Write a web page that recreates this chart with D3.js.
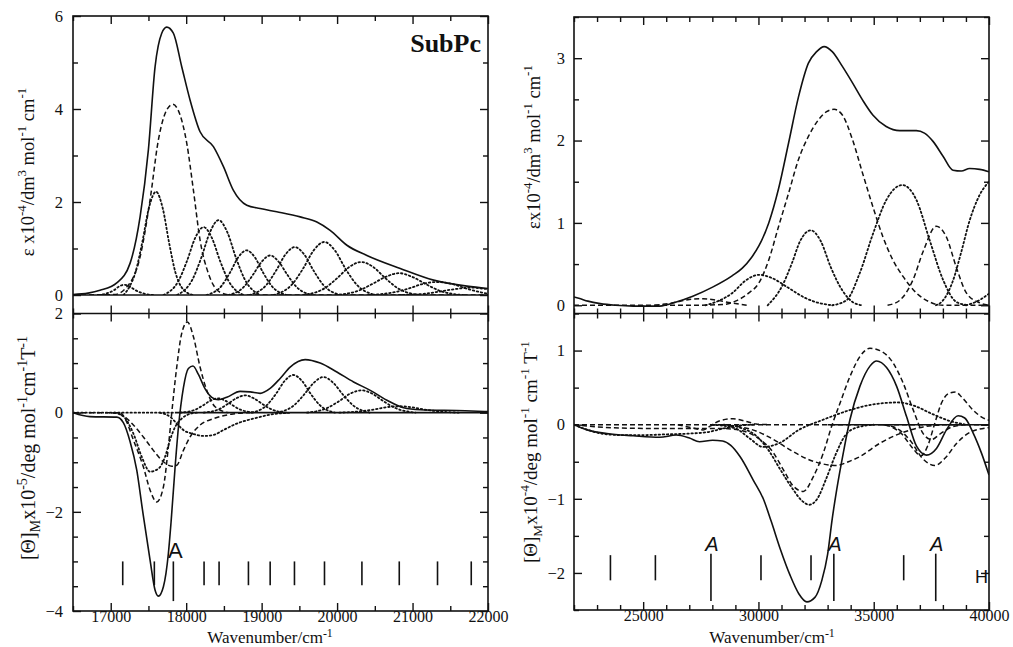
<!DOCTYPE html>
<html>
<head>
<meta charset="utf-8">
<script src="https://cdn.jsdelivr.net/npm/d3@7"></script>
<style>
body { margin: 0; background: #fff; }
svg { display: block; }
text { font-family: "Liberation Serif", "Times New Roman", serif; fill: #111; }
</style>
</head>
<body>
<script>
// ---- upper left: absorption, 16500-22000 cm-1 (eps x10^-4)
var ulSolid = [[16500,0.01],[16700,0.04],[16858,0.10],[17080,0.26],[17256,0.68],[17389,1.68],[17499,3.12],[17588,4.91],[17676,5.63],[17742,5.76],[17830,5.63],[17941,4.91],[18052,4.19],[18184,3.51],[18361,3.19],[18494,2.76],[18626,2.25],[18803,1.93],[18980,1.86],[19201,1.79],[19511,1.68],[19732,1.57],[19908,1.39],[20130,1.07],[20395,0.85],[20837,0.57],[21279,0.32],[21721,0.19],[22000,0.14]];
var ulDashed = [[[16500,0],[17050,0.01],[17212,0.17],[17389,0.82],[17521,2.04],[17631,3.33],[17742,3.98],[17822,4.10],[17919,3.87],[18008,3.26],[18096,2.25],[18184,1.18],[18295,0.46],[18449,0.06],[18600,0],[22000,0]]];
var ulDotted = [
  [[16840,0],[16975,0.05],[17050,0.11],[17110,0.185],[17180,0.22],[17250,0.185],[17320,0.11],[17400,0.05],[17560,0]],
  [[17170,0],[17256,0.2],[17330,0.5],[17420,1.15],[17510,1.9],[17601,2.22],[17690,1.86],[17775,1.11],[17860,0.47],[18010,0.05],[18100,0]],
  [[17700,0],[17900,0.31],[18010,0.73],[18120,1.23],[18230,1.46],[18340,1.23],[18450,0.73],[18560,0.31],[18760,0]],
  [[17880,0],[18085,0.34],[18200,0.80],[18315,1.35],[18430,1.61],[18545,1.35],[18660,0.80],[18775,0.34],[18980,0]],
  [[18270,0],[18470,0.20],[18580,0.48],[18690,0.81],[18800,0.96],[18910,0.81],[19020,0.48],[19130,0.20],[19330,0]],
  [[18560,0],[18768,0.18],[18883,0.43],[18998,0.71],[19113,0.85],[19228,0.71],[19343,0.43],[19458,0.18],[19665,0]],
  [[18840,0],[19065,0.22],[19190,0.52],[19315,0.87],[19440,1.03],[19565,0.87],[19690,0.52],[19815,0.22],[20040,0]],
  [[19160,0],[19410,0.24],[19550,0.57],[19690,0.96],[19830,1.14],[19970,0.96],[20110,0.57],[20250,0.24],[20500,0]],
  [[19550,0],[19840,0.15],[20000,0.36],[20160,0.60],[20320,0.71],[20480,0.60],[20640,0.36],[20800,0.15],[21090,0]],
  [[19980,0],[20295,0.10],[20470,0.24],[20645,0.39],[20820,0.47],[20995,0.39],[21170,0.24],[21345,0.10],[21660,0]],
  [[20420,0],[20760,0.06],[20950,0.14],[21140,0.24],[21330,0.28],[21520,0.24],[21710,0.14],[21900,0.06],[22000,0.03]],
  [[20820,0],[21180,0.03],[21380,0.08],[21580,0.13],[21780,0.16],[21980,0.13],[22000,0.13]]
];

// ---- lower left: MCD (x10^-5)
var llSolid = [[16500,0],[16725,-0.08],[17080,-0.09],[17167,-0.2],[17256,-0.58],[17345,-1.16],[17420,-1.95],[17521,-2.97],[17588,-3.58],[17631,-3.70],[17698,-3.51],[17764,-2.84],[17800,-2.2],[17853,-1.1],[17897,-0.3],[17963,0.5],[18029,0.89],[18090,0.94],[18162,0.77],[18251,0.48],[18339,0.31],[18427,0.26],[18538,0.31],[18715,0.43],[18847,0.42],[18980,0.39],[19113,0.49],[19245,0.69],[19378,0.92],[19577,1.07],[19776,1.00],[19997,0.82],[20218,0.62],[20439,0.45],[20660,0.25],[20881,0.10],[21102,0.06],[21700,0.04],[22000,0.02]];
var llZeroSolid = [[17850,0],[22000,0]];
var llDashed = [
  [[16500,0],[17123,0],[17200,-0.15],[17300,-0.55],[17432,-1.09],[17521,-1.56],[17610,-1.80],[17698,-1.50],[17764,-0.69],[17809,0],[17875,0.92],[17941,1.60],[18016,1.83],[18096,1.53],[18184,0.92],[18273,0.45],[18383,0.12],[18560,0]],
  [[17000,0],[17150,-0.05],[17300,-0.25],[17432,-0.49],[17565,-0.76],[17698,-0.99],[17809,-1.08],[17875,-1.06],[17963,-0.76],[18052,-0.49],[18184,-0.25],[18361,-0.12],[18600,-0.03],[18850,0]]
];
var llDotted = [
  [[16500,0],[17850,0]],
  [[17050,0],[17170,-0.08],[17300,-0.42],[17411,-0.89],[17521,-1.19],[17631,-1.13],[17720,-0.89],[17786,-0.55],[17853,-0.29],[17941,-0.12],[18060,-0.02],[18150,0]],
  [[17650,0],[17800,-0.10],[17875,-0.22],[17963,-0.35],[18096,-0.43],[18229,-0.47],[18361,-0.45],[18494,-0.35],[18671,-0.22],[18891,-0.12],[19157,-0.03],[19400,0]],
  [[17920,0],[18120,0.06],[18220,0.145],[18320,0.24],[18420,0.29],[18520,0.24],[18620,0.145],[18720,0.06],[18920,0]],
  [[18230,0],[18435,0.07],[18550,0.175],[18665,0.29],[18780,0.35],[18895,0.29],[19010,0.175],[19125,0.07],[19330,0]],
  [[18870,0],[19075,0.16],[19190,0.38],[19305,0.64],[19420,0.76],[19535,0.64],[19650,0.38],[19765,0.16],[19970,0]],
  [[19200,0],[19430,0.15],[19560,0.36],[19690,0.60],[19820,0.72],[19950,0.60],[20080,0.36],[20210,0.15],[20440,0]],
  [[19600,0],[19870,0.095],[20020,0.225],[20170,0.38],[20320,0.45],[20470,0.38],[20620,0.225],[20770,0.095],[21040,0]],
  [[20030,0],[20325,0.03],[20490,0.065],[20655,0.11],[20820,0.13],[20985,0.11],[21150,0.065],[21315,0.03],[21610,0]]
];

// ---- upper right: absorption, 22000-40000 cm-1 (eps x10^-4)
var urSolid = [[22000,0.10],[22208,0.085],[22600,0.05],[23139,0.02],[23800,0.0],[24572,-0.01],[25718,-0.01],[26435,0.04],[27151,0.11],[28011,0.22],[28871,0.36],[29300,0.45],[29700,0.58],[30017,0.72],[30447,1.0],[30877,1.42],[31307,1.97],[31737,2.53],[32167,2.94],[32525,3.08],[32850,3.14],[33200,3.08],[33640,2.90],[34080,2.70],[34520,2.49],[34960,2.31],[35540,2.17],[36127,2.12],[36849,2.12],[37200,2.09],[37572,1.99],[38006,1.81],[38439,1.64],[38800,1.63],[39162,1.66],[39595,1.65],[40000,1.62]];
var urDashed = [
  [[22000,0],[27000,0],[28500,0.01],[29000,0.05],[29588,0.15],[30017,0.27],[30447,0.55],[30877,0.96],[31307,1.36],[31737,1.77],[32167,2.05],[32597,2.25],[32955,2.35],[33280,2.38],[33640,2.31],[34080,2.01],[34520,1.60],[34960,1.20],[35400,0.83],[35830,0.55],[36270,0.35],[36849,0.15],[37427,0.04],[38000,0],[40000,0]],
  [[35600,0],[36127,0.06],[36705,0.31],[37139,0.65],[37717,0.96],[38150,0.83],[38584,0.46],[39017,0.15],[39595,0.03],[40000,0]],
  [[25500,0],[26300,0.03],[27000,0.07],[27600,0.08],[28200,0.06],[28800,0.03],[29500,0]]
];
var urDotted = [
  [[27700,0],[28155,0.04],[28871,0.15],[29444,0.30],[30017,0.37],[30590,0.33],[31307,0.21],[32024,0.09],[32597,0.03],[33200,0]],
  [[30400,0],[31020,0.23],[31450,0.51],[31809,0.78],[32270,0.91],[32700,0.78],[33140,0.46],[33640,0.18],[34080,0.04],[34500,0]],
  [[33200,0],[33815,0.06],[34393,0.39],[34971,0.87],[35549,1.28],[36243,1.46],[36849,1.28],[37427,0.79],[38006,0.31],[38584,0.04],[39100,0]],
  [[37700,0],[38006,0.06],[38439,0.30],[38800,0.65],[39150,1.02],[39595,1.34],[40000,1.50]],
  [[39000,0],[39500,0.05],[40000,0.14]]
];

// ---- lower right: MCD (x10^-4)
var lrSolid = [[22000,0],[22566,-0.07],[23426,-0.12],[24572,-0.15],[25718,-0.17],[26435,-0.14],[27008,-0.18],[27440,-0.23],[28011,-0.21],[28443,-0.22],[28800,-0.28],[29200,-0.43],[29780,-0.75],[30210,-1.0],[30550,-1.30],[30950,-1.68],[31370,-2.03],[31750,-2.28],[32100,-2.39],[32450,-2.33],[32750,-2.10],[33000,-1.75],[33200,-1.27],[33393,-0.88],[33681,-0.38],[33970,0.07],[34403,0.52],[34836,0.79],[35124,0.86],[35557,0.77],[35990,0.52],[36423,0.11],[36856,-0.29],[37289,-0.41],[37722,-0.32],[38155,-0.07],[38660,0.12],[38948,0.09],[39309,-0.11],[39670,-0.38],[40000,-0.68]];
var lrZeroSolid = [[33000,0],[40000,0]];
var lrDashed = [
  [[22000,0],[40000,0]],
  [[22000,0],[23000,-0.03],[25000,-0.05],[27000,-0.05],[28200,-0.05],[28919,-0.06],[29497,-0.10],[30074,-0.20],[30651,-0.38],[31084,-0.61],[31517,-0.83],[31950,-0.90],[32383,-0.70],[32816,-0.38],[33176,-0.02],[33537,0.29],[33970,0.65],[34403,0.92],[34836,1.03],[35269,1.0],[35846,0.83],[36279,0.56],[36712,0.20],[37145,-0.12],[37500,-0.2],[37900,-0.12],[38400,-0.03],[39000,0]],
  [[28000,0],[29208,-0.03],[29930,-0.09],[30651,-0.2],[31373,-0.34],[32100,-0.46],[32800,-0.53],[33393,-0.55],[33900,-0.50],[34403,-0.43],[35269,-0.25],[36135,-0.12],[37145,-0.03],[38000,0]],
  [[35500,0],[36200,-0.12],[36700,-0.32],[37050,-0.42],[37350,-0.28],[37650,0.02],[37950,0.30],[38250,0.42],[38550,0.44],[38850,0.36],[39300,0.20],[39700,0.10],[40000,0.06]],
  [[35400,0],[36000,-0.05],[36600,-0.22],[37100,-0.45],[37650,-0.55],[38100,-0.45],[38600,-0.25],[39200,-0.1],[40000,-0.04]],
  [[26500,0],[27100,-0.04],[27600,-0.07],[27900,-0.02],[28300,0.05],[28900,0.08],[29400,0.05],[29900,0.01],[30500,0]]
];
var lrDotted = [
  [[22000,0],[22500,-0.06],[23200,-0.12],[24000,-0.14],[25000,-0.14],[26000,-0.13],[27000,-0.12],[27800,-0.10],[28500,-0.05],[29200,-0.01],[29800,0]],
  [[28000,0],[29000,-0.05],[29600,-0.18],[30200,-0.30],[30900,-0.25],[31750,-0.07],[32750,0.06],[34000,0.20],[34900,0.27],[36050,0.30],[36800,0.25],[37500,0.15],[38300,0.05],[39000,0]],
  [[28500,0],[29300,-0.05],[29900,-0.15],[30450,-0.35],[30900,-0.58],[31450,-0.85],[31900,-1.03],[32200,-1.08],[32550,-1.0],[32950,-0.72],[33350,-0.40],[33750,-0.15],[34250,-0.04],[35000,0]]
];

// band positions (vertical markers) and A-term labels
var leftBands = [17159,17578,17830,18237,18436,18825,19113,19435,19833,20329,20824,21331,21778];
var leftATerms = [17830];
var rightBands = [23580,25530,27940,30110,32280,33270,36300,37690];
var rightATerms = [27940,33270,37690];
var rightHMark = 39670;

// tick labels
var leftXLabels = [17000,18000,19000,20000,21000,22000];
var rightXLabels = [25000,30000,35000,40000];
var ulYLabels = [0,2,4,6];
var llYLabels = [-4,-2,0,2];
var urYLabels = [0,1,2,3];
var lrYLabels = [-2,-1,0,1];

var width = 1013, height = 647;
var svg = d3.select('body').append('svg').attr('width', width).attr('height', height);
svg.append('rect').attr('width', width).attr('height', height).attr('fill', '#fff');

var xL = d3.scaleLinear().domain([16500,22000]).range([73,488]);
var xR = d3.scaleLinear().domain([22000,40000]).range([574,989]);
var yUL = d3.scaleLinear().domain([0,6]).range([295,16]);
var yLL = d3.scaleLinear().domain([-4,2]).range([611,313.5]);
var yUR = d3.scaleLinear().domain([-0.1,3.5]).range([313.5,17]);
var yLR = d3.scaleLinear().domain([-2.5,1.5]).range([610,313.5]);

var ink = '#111';
var styles = {
  solid:  {w: 1.6, dash: null},
  dashed: {w: 1.5, dash: '5,3'},
  dotted: {w: 1.8, dash: '1.5,2.6'}
};

var defs = svg.append('defs');
function clip(id, xs, ys) {
  defs.append('clipPath').attr('id', id).append('rect')
    .attr('x', xs.range()[0]).attr('y', ys.range()[1])
    .attr('width', xs.range()[1] - xs.range()[0])
    .attr('height', ys.range()[0] - ys.range()[1]);
}
clip('cUL', xL, yUL); clip('cLL', xL, yLL); clip('cUR', xR, yUR); clip('cLR', xR, yLR);

function curves(id, xs, ys, list, kind) {
  var line = d3.line().x(function(d){ return xs(d[0]); }).y(function(d){ return ys(d[1]); })
    .curve(d3.curveMonotoneX);
  var st = styles[kind];
  svg.append('g').attr('clip-path', 'url(#' + id + ')')
    .selectAll('path').data(list).enter().append('path')
    .attr('d', line).attr('fill', 'none').attr('stroke', ink)
    .attr('stroke-width', st.w).attr('stroke-dasharray', st.dash)
    .attr('stroke-linecap', kind == 'dotted' ? 'round' : 'butt');
}

curves('cUL', xL, yUL, ulDotted, 'dotted');
curves('cUL', xL, yUL, ulDashed, 'dashed');
curves('cUL', xL, yUL, [ulSolid], 'solid');

curves('cLL', xL, yLL, llDotted, 'dotted');
curves('cLL', xL, yLL, llDashed, 'dashed');
curves('cLL', xL, yLL, [llSolid, llZeroSolid], 'solid');

curves('cUR', xR, yUR, urDotted, 'dotted');
curves('cUR', xR, yUR, urDashed, 'dashed');
curves('cUR', xR, yUR, [urSolid], 'solid');

curves('cLR', xR, yLR, lrDotted, 'dotted');
curves('cLR', xR, yLR, lrDashed, 'dashed');
curves('cLR', xR, yLR, [lrSolid, lrZeroSolid], 'solid');

// band marker bars
function bars(xs, ys, bands, longOnes, top, bot, longTop, longBot) {
  svg.append('g').selectAll('line').data(bands).enter().append('line')
    .attr('x1', function(d){ return xs(d); }).attr('x2', function(d){ return xs(d); })
    .attr('y1', function(d){ return ys(longOnes.indexOf(d) >= 0 ? longTop : top); })
    .attr('y2', function(d){ return ys(longOnes.indexOf(d) >= 0 ? longBot : bot); })
    .attr('stroke', ink).attr('stroke-width', 1.6);
}
bars(xL, yLL, leftBands, leftATerms, -3.0, -3.48, -3.0, -3.8);
bars(xR, yLR, rightBands, rightATerms, -1.76, -2.10, -1.74, -2.38);

svg.append('g').selectAll('text').data(leftATerms).enter().append('text')
  .attr('x', function(d){ return xL(d) + 2; }).attr('y', yLL(-2.94))
  .attr('text-anchor', 'middle').style('font-family', '"Liberation Sans", Arial, sans-serif')
  .style('font-size', '22px').text('A');
svg.append('g').selectAll('text').data(rightATerms).enter().append('text')
  .attr('x', function(d){ return xR(d) + 1; }).attr('y', yLR(-1.70))
  .attr('text-anchor', 'middle').style('font-family', '"Liberation Sans", Arial, sans-serif')
  .style('font-style', 'italic').style('font-size', '20px').text('A');
svg.append('text').attr('x', xR(rightHMark)).attr('y', yLR(-2.13))
  .attr('text-anchor', 'middle').style('font-family', '"Liberation Sans", Arial, sans-serif')
  .style('font-size', '18px').text('H');

// frames
function frame(xs, y0, y1) {
  svg.append('rect').attr('x', xs.range()[0]).attr('y', y0)
    .attr('width', xs.range()[1] - xs.range()[0]).attr('height', y1 - y0)
    .attr('fill', 'none').attr('stroke', ink).attr('stroke-width', 1.6);
}
frame(xL, 16, 611);
frame(xR, 17, 610);
svg.append('line').attr('x1', 73).attr('x2', 488).attr('y1', yUL(0)).attr('y2', yUL(0))
  .attr('stroke', ink).attr('stroke-width', 1.6);
svg.append('line').attr('x1', 73).attr('x2', 488).attr('y1', 313.5).attr('y2', 313.5)
  .attr('stroke', ink).attr('stroke-width', 1.6);
svg.append('line').attr('x1', 574).attr('x2', 989).attr('y1', 313.5).attr('y2', 313.5)
  .attr('stroke', ink).attr('stroke-width', 1.6);

// ticks
function ticks(axisFn, scale, values, size, tx, ty) {
  var g = svg.append('g').attr('transform', 'translate(' + tx + ',' + ty + ')')
    .call(axisFn(scale).tickValues(values).tickSize(size).tickFormat(''));
  g.select('.domain').remove();
  g.selectAll('line').attr('stroke', ink).attr('stroke-width', 1.4);
}
var lMaj = d3.range(17000, 22001, 1000), lMin = d3.range(16500, 22001, 1000);
var rMaj = [25000,30000,35000,40000], rMin = d3.range(22000, 40001, 1000).filter(function(v){ return v % 5000; });

// left panel x ticks
ticks(d3.axisBottom, xL, lMaj, 8, 0, 16);
ticks(d3.axisBottom, xL, lMin, 5, 0, 16);
ticks(d3.axisBottom, xL, lMaj, 8, 0, 313.5);
ticks(d3.axisTop, xL, lMaj, 8, 0, 313.5);
ticks(d3.axisBottom, xL, lMin, 5, 0, 313.5);
ticks(d3.axisTop, xL, lMin, 5, 0, 313.5);
ticks(d3.axisTop, xL, lMaj, 8, 0, 611);
ticks(d3.axisTop, xL, lMin, 5, 0, 611);
// right panel x ticks
ticks(d3.axisBottom, xR, rMaj, 8, 0, 17);
ticks(d3.axisBottom, xR, rMin, 5, 0, 17);
ticks(d3.axisBottom, xR, rMaj, 8, 0, 313.5);
ticks(d3.axisTop, xR, rMaj, 8, 0, 313.5);
ticks(d3.axisBottom, xR, rMin, 5, 0, 313.5);
ticks(d3.axisTop, xR, rMin, 5, 0, 313.5);
ticks(d3.axisTop, xR, rMaj, 8, 0, 610);
ticks(d3.axisTop, xR, rMin, 5, 0, 610);
// y ticks
function yTicks(xs, ys, major, minor) {
  ticks(d3.axisRight, ys, major, 8, xs.range()[0], 0);
  ticks(d3.axisRight, ys, minor, 5, xs.range()[0], 0);
  ticks(d3.axisLeft, ys, major, 8, xs.range()[1], 0);
  ticks(d3.axisLeft, ys, minor, 5, xs.range()[1], 0);
}
yTicks(xL, yUL, [0,2,4,6], [1,3,5]);
yTicks(xL, yLL, [-4,-2,0,2], [-3.5,-3,-2.5,-1.5,-1,-0.5,0.5,1,1.5]);
yTicks(xR, yUR, [0,1,2,3], [0.5,1.5,2.5,3.5]);
yTicks(xR, yLR, [-2,-1,0,1], [-2.5,-1.5,-0.5,0.5,1.5]);

// tick labels
function labels(axisFn, scale, values, pad, tx, ty, size) {
  var g = svg.append('g').attr('transform', 'translate(' + tx + ',' + ty + ')')
    .call(axisFn(scale).tickValues(values).tickSize(0).tickPadding(pad).tickFormat(d3.format('d')));
  g.select('.domain').remove();
  g.selectAll('text').style('font-family', '"Liberation Serif", "Times New Roman", serif')
    .style('font-size', size + 'px').attr('fill', ink);
}
labels(d3.axisBottom, xL, leftXLabels, 0, 0, 611, 16);
labels(d3.axisBottom, xR, rightXLabels, 0, 0, 610, 16);
labels(d3.axisLeft, yUL, ulYLabels, 10, 73, 0, 16.5);
labels(d3.axisLeft, yLL, llYLabels, 10, 73, 0, 16.5);
labels(d3.axisLeft, yUR, urYLabels, 9, 574, 0, 16.5);
labels(d3.axisLeft, yLR, lrYLabels, 9, 574, 0, 16.5);

// titles with super/subscripts
function rich(x, y, rotate, parts, size, supShift) {
  var t = svg.append('text').attr('text-anchor', 'middle').style('font-size', size + 'px')
    .attr('transform', 'translate(' + x + ',' + y + ')' + (rotate ? ' rotate(-90)' : ''));
  var shift = 0;
  parts.forEach(function(p) {
    var s = t.append('tspan').text(p[0]);
    var target = p[1] == 'sup' ? -supShift * size : p[1] == 'sub' ? 0.25 * size : 0;
    s.attr('dy', target - shift);
    shift = target;
    if (p[1]) s.style('font-size', (size * 0.7) + 'px');
  });
}
rich(270, 643, false, [['Wavenumber/cm'], ['-1', 'sup']], 17, 0.33);
rich(772, 643, false, [['Wavenumber/cm'], ['-1', 'sup']], 17, 0.33);
rich(34, 172, true, [['\u03b5 x10'], ['-4', 'sup'], ['/dm'], ['3', 'sup'], [' mol'], ['-1', 'sup'], [' cm'], ['-1', 'sup']], 18.5, 0.42);
rich(35, 448, true, [['[\u0398]'], ['M', 'sub'], ['x10'], ['-5', 'sup'], ['/deg mol'], ['-1', 'sup'], ['cm'], ['-1', 'sup'], ['T'], ['-1', 'sup']], 20, 0.42);
rich(540, 147, true, [['\u03b5x10'], ['-4', 'sup'], ['/dm'], ['3', 'sup'], [' mol'], ['-1', 'sup'], [' cm'], ['-1', 'sup']], 18.5, 0.42);
rich(537, 452, true, [['[\u0398]'], ['M', 'sub'], ['x10'], ['-4', 'sup'], ['/deg mol'], ['-1', 'sup'], [' cm'], ['-1', 'sup'], [' T'], ['-1', 'sup']], 19, 0.42);

svg.append('text').attr('x', 481).attr('y', 52).attr('text-anchor', 'end')
  .style('font-weight', 'bold').style('font-size', '26px').text('SubPc');
</script>
</body>
</html>
